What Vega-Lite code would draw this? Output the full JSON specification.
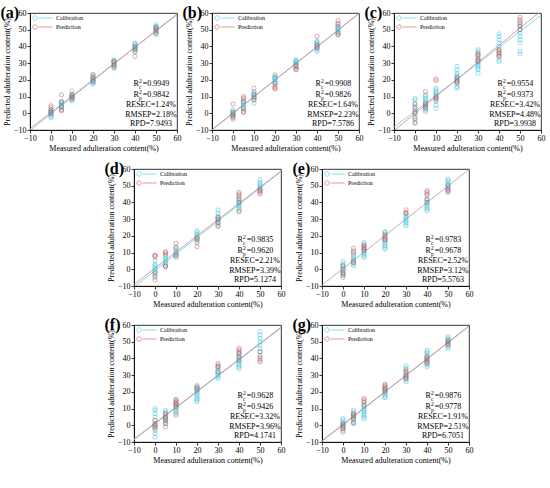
{
  "$schema": "https://vega.github.io/schema/vega-lite/v6.json",
  "padding": {"left": 0, "top": 4, "right": 0, "bottom": 0},
  "datasets": {
    "pts": [
      {"p":"a","s":"Calibration","x":0,"y":-2.5},{"p":"a","s":"Calibration","x":0,"y":-2},{"p":"a","s":"Calibration","x":0,"y":-1},{"p":"a","s":"Calibration","x":0,"y":0},{"p":"a","s":"Calibration","x":0,"y":0.5},{"p":"a","s":"Calibration","x":0,"y":1},{"p":"a","s":"Calibration","x":0,"y":1.5},{"p":"a","s":"Calibration","x":0,"y":2},
      {"p":"a","s":"Calibration","x":5,"y":2.5},{"p":"a","s":"Calibration","x":5,"y":3.5},{"p":"a","s":"Calibration","x":5,"y":4},{"p":"a","s":"Calibration","x":5,"y":5},{"p":"a","s":"Calibration","x":5,"y":5.5},{"p":"a","s":"Calibration","x":5,"y":6},{"p":"a","s":"Calibration","x":5,"y":6.5},{"p":"a","s":"Calibration","x":5,"y":7},
      {"p":"a","s":"Calibration","x":10,"y":7.5},{"p":"a","s":"Calibration","x":10,"y":8},{"p":"a","s":"Calibration","x":10,"y":9},{"p":"a","s":"Calibration","x":10,"y":9.5},{"p":"a","s":"Calibration","x":10,"y":10},{"p":"a","s":"Calibration","x":10,"y":10.5},{"p":"a","s":"Calibration","x":10,"y":11},{"p":"a","s":"Calibration","x":10,"y":13.5},
      {"p":"a","s":"Calibration","x":20,"y":17.5},{"p":"a","s":"Calibration","x":20,"y":18},{"p":"a","s":"Calibration","x":20,"y":19},{"p":"a","s":"Calibration","x":20,"y":19.5},{"p":"a","s":"Calibration","x":20,"y":20},{"p":"a","s":"Calibration","x":20,"y":21},{"p":"a","s":"Calibration","x":20,"y":22},{"p":"a","s":"Calibration","x":20,"y":23},
      {"p":"a","s":"Calibration","x":30,"y":27},{"p":"a","s":"Calibration","x":30,"y":28},{"p":"a","s":"Calibration","x":30,"y":28.5},{"p":"a","s":"Calibration","x":30,"y":29},{"p":"a","s":"Calibration","x":30,"y":30},{"p":"a","s":"Calibration","x":30,"y":31},{"p":"a","s":"Calibration","x":30,"y":31.5},{"p":"a","s":"Calibration","x":30,"y":32},
      {"p":"a","s":"Calibration","x":40,"y":36.5},{"p":"a","s":"Calibration","x":40,"y":37},{"p":"a","s":"Calibration","x":40,"y":38},{"p":"a","s":"Calibration","x":40,"y":39},{"p":"a","s":"Calibration","x":40,"y":40},{"p":"a","s":"Calibration","x":40,"y":41},{"p":"a","s":"Calibration","x":40,"y":41.5},{"p":"a","s":"Calibration","x":40,"y":42},
      {"p":"a","s":"Calibration","x":50,"y":47},{"p":"a","s":"Calibration","x":50,"y":48},{"p":"a","s":"Calibration","x":50,"y":49},{"p":"a","s":"Calibration","x":50,"y":50},{"p":"a","s":"Calibration","x":50,"y":51},{"p":"a","s":"Calibration","x":50,"y":51.5},{"p":"a","s":"Calibration","x":50,"y":52},{"p":"a","s":"Calibration","x":50,"y":53},
      {"p":"a","s":"Prediction","x":0,"y":4.5},{"p":"a","s":"Prediction","x":0,"y":3.5},{"p":"a","s":"Prediction","x":0,"y":2},{"p":"a","s":"Prediction","x":0,"y":0.5},{"p":"a","s":"Prediction","x":0,"y":-0.5},
      {"p":"a","s":"Prediction","x":5,"y":11},{"p":"a","s":"Prediction","x":5,"y":7},{"p":"a","s":"Prediction","x":5,"y":4},{"p":"a","s":"Prediction","x":5,"y":2},{"p":"a","s":"Prediction","x":5,"y":1.5},
      {"p":"a","s":"Prediction","x":10,"y":8.5},{"p":"a","s":"Prediction","x":10,"y":9.5},{"p":"a","s":"Prediction","x":10,"y":10.5},{"p":"a","s":"Prediction","x":10,"y":11.5},
      {"p":"a","s":"Prediction","x":20,"y":19},{"p":"a","s":"Prediction","x":20,"y":20.5},{"p":"a","s":"Prediction","x":20,"y":21.5},{"p":"a","s":"Prediction","x":20,"y":23},
      {"p":"a","s":"Prediction","x":30,"y":27.5},{"p":"a","s":"Prediction","x":30,"y":29},{"p":"a","s":"Prediction","x":30,"y":30.5},{"p":"a","s":"Prediction","x":30,"y":31},
      {"p":"a","s":"Prediction","x":40,"y":34},{"p":"a","s":"Prediction","x":40,"y":38},{"p":"a","s":"Prediction","x":40,"y":39},{"p":"a","s":"Prediction","x":40,"y":40},
      {"p":"a","s":"Prediction","x":50,"y":48},{"p":"a","s":"Prediction","x":50,"y":49.5},{"p":"a","s":"Prediction","x":50,"y":50.5},{"p":"a","s":"Prediction","x":50,"y":51.5},

      {"p":"b","s":"Calibration","x":0,"y":-2},{"p":"b","s":"Calibration","x":0,"y":-1.5},{"p":"b","s":"Calibration","x":0,"y":-1},{"p":"b","s":"Calibration","x":0,"y":-0.5},{"p":"b","s":"Calibration","x":0,"y":0},{"p":"b","s":"Calibration","x":0,"y":0.5},{"p":"b","s":"Calibration","x":0,"y":1.5},{"p":"b","s":"Calibration","x":0,"y":2},
      {"p":"b","s":"Calibration","x":5,"y":2},{"p":"b","s":"Calibration","x":5,"y":3},{"p":"b","s":"Calibration","x":5,"y":4},{"p":"b","s":"Calibration","x":5,"y":5},{"p":"b","s":"Calibration","x":5,"y":6},{"p":"b","s":"Calibration","x":5,"y":6.5},{"p":"b","s":"Calibration","x":5,"y":7},{"p":"b","s":"Calibration","x":5,"y":8},
      {"p":"b","s":"Calibration","x":10,"y":6},{"p":"b","s":"Calibration","x":10,"y":8},{"p":"b","s":"Calibration","x":10,"y":9},{"p":"b","s":"Calibration","x":10,"y":10},{"p":"b","s":"Calibration","x":10,"y":11},{"p":"b","s":"Calibration","x":10,"y":11.5},{"p":"b","s":"Calibration","x":10,"y":12},{"p":"b","s":"Calibration","x":10,"y":13},
      {"p":"b","s":"Calibration","x":20,"y":17},{"p":"b","s":"Calibration","x":20,"y":18},{"p":"b","s":"Calibration","x":20,"y":19},{"p":"b","s":"Calibration","x":20,"y":20},{"p":"b","s":"Calibration","x":20,"y":20.5},{"p":"b","s":"Calibration","x":20,"y":21},{"p":"b","s":"Calibration","x":20,"y":21.5},{"p":"b","s":"Calibration","x":20,"y":22},
      {"p":"b","s":"Calibration","x":30,"y":27},{"p":"b","s":"Calibration","x":30,"y":28},{"p":"b","s":"Calibration","x":30,"y":29},{"p":"b","s":"Calibration","x":30,"y":30},{"p":"b","s":"Calibration","x":30,"y":30.5},{"p":"b","s":"Calibration","x":30,"y":31},{"p":"b","s":"Calibration","x":30,"y":31.5},{"p":"b","s":"Calibration","x":30,"y":32},
      {"p":"b","s":"Calibration","x":40,"y":37},{"p":"b","s":"Calibration","x":40,"y":38},{"p":"b","s":"Calibration","x":40,"y":39},{"p":"b","s":"Calibration","x":40,"y":40},{"p":"b","s":"Calibration","x":40,"y":41},{"p":"b","s":"Calibration","x":40,"y":42},{"p":"b","s":"Calibration","x":40,"y":42.5},{"p":"b","s":"Calibration","x":40,"y":43},
      {"p":"b","s":"Calibration","x":50,"y":47},{"p":"b","s":"Calibration","x":50,"y":48},{"p":"b","s":"Calibration","x":50,"y":49},{"p":"b","s":"Calibration","x":50,"y":50},{"p":"b","s":"Calibration","x":50,"y":50.5},{"p":"b","s":"Calibration","x":50,"y":51},{"p":"b","s":"Calibration","x":50,"y":51.5},{"p":"b","s":"Calibration","x":50,"y":52},
      {"p":"b","s":"Prediction","x":0,"y":5.5},{"p":"b","s":"Prediction","x":0,"y":-3.5},{"p":"b","s":"Prediction","x":0,"y":-2.5},{"p":"b","s":"Prediction","x":0,"y":-1},{"p":"b","s":"Prediction","x":0,"y":0.5},
      {"p":"b","s":"Prediction","x":5,"y":10},{"p":"b","s":"Prediction","x":5,"y":9},{"p":"b","s":"Prediction","x":5,"y":7},{"p":"b","s":"Prediction","x":5,"y":3},{"p":"b","s":"Prediction","x":5,"y":1},{"p":"b","s":"Prediction","x":5,"y":0.5},
      {"p":"b","s":"Prediction","x":10,"y":15},{"p":"b","s":"Prediction","x":10,"y":11},{"p":"b","s":"Prediction","x":10,"y":9.5},{"p":"b","s":"Prediction","x":10,"y":8},
      {"p":"b","s":"Prediction","x":20,"y":23},{"p":"b","s":"Prediction","x":20,"y":18},{"p":"b","s":"Prediction","x":20,"y":16},{"p":"b","s":"Prediction","x":20,"y":15},{"p":"b","s":"Prediction","x":20,"y":14.5},
      {"p":"b","s":"Prediction","x":30,"y":26},{"p":"b","s":"Prediction","x":30,"y":26.5},{"p":"b","s":"Prediction","x":30,"y":28},{"p":"b","s":"Prediction","x":30,"y":29},
      {"p":"b","s":"Prediction","x":40,"y":46},{"p":"b","s":"Prediction","x":40,"y":41},{"p":"b","s":"Prediction","x":40,"y":40},{"p":"b","s":"Prediction","x":40,"y":39},
      {"p":"b","s":"Prediction","x":50,"y":55.5},{"p":"b","s":"Prediction","x":50,"y":54},{"p":"b","s":"Prediction","x":50,"y":53},{"p":"b","s":"Prediction","x":50,"y":48},{"p":"b","s":"Prediction","x":50,"y":47},

      {"p":"c","s":"Calibration","x":0,"y":-6},{"p":"c","s":"Calibration","x":0,"y":-4},{"p":"c","s":"Calibration","x":0,"y":-2},{"p":"c","s":"Calibration","x":0,"y":0},{"p":"c","s":"Calibration","x":0,"y":2},{"p":"c","s":"Calibration","x":0,"y":4},{"p":"c","s":"Calibration","x":0,"y":6},{"p":"c","s":"Calibration","x":0,"y":8},{"p":"c","s":"Calibration","x":0,"y":9},
      {"p":"c","s":"Calibration","x":5,"y":1},{"p":"c","s":"Calibration","x":5,"y":2},{"p":"c","s":"Calibration","x":5,"y":3},{"p":"c","s":"Calibration","x":5,"y":4},{"p":"c","s":"Calibration","x":5,"y":5},{"p":"c","s":"Calibration","x":5,"y":6},{"p":"c","s":"Calibration","x":5,"y":7},{"p":"c","s":"Calibration","x":5,"y":8},{"p":"c","s":"Calibration","x":5,"y":9},{"p":"c","s":"Calibration","x":5,"y":10},{"p":"c","s":"Calibration","x":5,"y":11},
      {"p":"c","s":"Calibration","x":10,"y":3},{"p":"c","s":"Calibration","x":10,"y":5},{"p":"c","s":"Calibration","x":10,"y":7},{"p":"c","s":"Calibration","x":10,"y":9},{"p":"c","s":"Calibration","x":10,"y":10},{"p":"c","s":"Calibration","x":10,"y":11},{"p":"c","s":"Calibration","x":10,"y":12},{"p":"c","s":"Calibration","x":10,"y":13},{"p":"c","s":"Calibration","x":10,"y":14},{"p":"c","s":"Calibration","x":10,"y":15},
      {"p":"c","s":"Calibration","x":20,"y":15},{"p":"c","s":"Calibration","x":20,"y":16},{"p":"c","s":"Calibration","x":20,"y":18},{"p":"c","s":"Calibration","x":20,"y":19},{"p":"c","s":"Calibration","x":20,"y":20},{"p":"c","s":"Calibration","x":20,"y":21},{"p":"c","s":"Calibration","x":20,"y":22},{"p":"c","s":"Calibration","x":20,"y":23},{"p":"c","s":"Calibration","x":20,"y":24},{"p":"c","s":"Calibration","x":20,"y":26},{"p":"c","s":"Calibration","x":20,"y":28},
      {"p":"c","s":"Calibration","x":30,"y":24},{"p":"c","s":"Calibration","x":30,"y":26},{"p":"c","s":"Calibration","x":30,"y":27},{"p":"c","s":"Calibration","x":30,"y":28},{"p":"c","s":"Calibration","x":30,"y":29},{"p":"c","s":"Calibration","x":30,"y":30},{"p":"c","s":"Calibration","x":30,"y":31},{"p":"c","s":"Calibration","x":30,"y":32},{"p":"c","s":"Calibration","x":30,"y":33},{"p":"c","s":"Calibration","x":30,"y":35},{"p":"c","s":"Calibration","x":30,"y":37},{"p":"c","s":"Calibration","x":30,"y":38},
      {"p":"c","s":"Calibration","x":40,"y":31},{"p":"c","s":"Calibration","x":40,"y":32},{"p":"c","s":"Calibration","x":40,"y":34},{"p":"c","s":"Calibration","x":40,"y":36},{"p":"c","s":"Calibration","x":40,"y":38},{"p":"c","s":"Calibration","x":40,"y":40},{"p":"c","s":"Calibration","x":40,"y":42},{"p":"c","s":"Calibration","x":40,"y":44},{"p":"c","s":"Calibration","x":40,"y":46},{"p":"c","s":"Calibration","x":40,"y":47.5},
      {"p":"c","s":"Calibration","x":50,"y":35.5},{"p":"c","s":"Calibration","x":50,"y":37},{"p":"c","s":"Calibration","x":50,"y":42},{"p":"c","s":"Calibration","x":50,"y":44},{"p":"c","s":"Calibration","x":50,"y":46},{"p":"c","s":"Calibration","x":50,"y":48},{"p":"c","s":"Calibration","x":50,"y":50},{"p":"c","s":"Calibration","x":50,"y":52},{"p":"c","s":"Calibration","x":50,"y":53},{"p":"c","s":"Calibration","x":50,"y":55},
      {"p":"c","s":"Prediction","x":0,"y":-5.5},{"p":"c","s":"Prediction","x":0,"y":-3},{"p":"c","s":"Prediction","x":0,"y":0},{"p":"c","s":"Prediction","x":0,"y":1},{"p":"c","s":"Prediction","x":0,"y":3},{"p":"c","s":"Prediction","x":0,"y":5.5},
      {"p":"c","s":"Prediction","x":5,"y":13},{"p":"c","s":"Prediction","x":5,"y":6},{"p":"c","s":"Prediction","x":5,"y":5},{"p":"c","s":"Prediction","x":5,"y":4},{"p":"c","s":"Prediction","x":5,"y":3},
      {"p":"c","s":"Prediction","x":10,"y":20.5},{"p":"c","s":"Prediction","x":10,"y":19.5},{"p":"c","s":"Prediction","x":10,"y":10},{"p":"c","s":"Prediction","x":10,"y":9},{"p":"c","s":"Prediction","x":10,"y":8},
      {"p":"c","s":"Prediction","x":20,"y":18},{"p":"c","s":"Prediction","x":20,"y":19},{"p":"c","s":"Prediction","x":20,"y":20},{"p":"c","s":"Prediction","x":20,"y":21.5},
      {"p":"c","s":"Prediction","x":30,"y":36},{"p":"c","s":"Prediction","x":30,"y":35},{"p":"c","s":"Prediction","x":30,"y":34},{"p":"c","s":"Prediction","x":30,"y":32},{"p":"c","s":"Prediction","x":30,"y":31},
      {"p":"c","s":"Prediction","x":40,"y":38},{"p":"c","s":"Prediction","x":40,"y":37},{"p":"c","s":"Prediction","x":40,"y":36},{"p":"c","s":"Prediction","x":40,"y":35},{"p":"c","s":"Prediction","x":40,"y":34},
      {"p":"c","s":"Prediction","x":50,"y":57.5},{"p":"c","s":"Prediction","x":50,"y":56},{"p":"c","s":"Prediction","x":50,"y":54},{"p":"c","s":"Prediction","x":50,"y":52},{"p":"c","s":"Prediction","x":50,"y":50},

      {"p":"d","s":"Calibration","x":0,"y":-5},{"p":"d","s":"Calibration","x":0,"y":-3},{"p":"d","s":"Calibration","x":0,"y":-2},{"p":"d","s":"Calibration","x":0,"y":-1},{"p":"d","s":"Calibration","x":0,"y":0},{"p":"d","s":"Calibration","x":0,"y":1},{"p":"d","s":"Calibration","x":0,"y":2},{"p":"d","s":"Calibration","x":0,"y":3},{"p":"d","s":"Calibration","x":0,"y":5},
      {"p":"d","s":"Calibration","x":5,"y":2},{"p":"d","s":"Calibration","x":5,"y":3},{"p":"d","s":"Calibration","x":5,"y":4},{"p":"d","s":"Calibration","x":5,"y":5},{"p":"d","s":"Calibration","x":5,"y":6},{"p":"d","s":"Calibration","x":5,"y":7},{"p":"d","s":"Calibration","x":5,"y":8},
      {"p":"d","s":"Calibration","x":10,"y":7},{"p":"d","s":"Calibration","x":10,"y":8},{"p":"d","s":"Calibration","x":10,"y":9},{"p":"d","s":"Calibration","x":10,"y":10},{"p":"d","s":"Calibration","x":10,"y":11},{"p":"d","s":"Calibration","x":10,"y":12},{"p":"d","s":"Calibration","x":10,"y":13},
      {"p":"d","s":"Calibration","x":20,"y":17},{"p":"d","s":"Calibration","x":20,"y":18},{"p":"d","s":"Calibration","x":20,"y":19},{"p":"d","s":"Calibration","x":20,"y":20},{"p":"d","s":"Calibration","x":20,"y":21},{"p":"d","s":"Calibration","x":20,"y":22},{"p":"d","s":"Calibration","x":20,"y":23},
      {"p":"d","s":"Calibration","x":30,"y":25.5},{"p":"d","s":"Calibration","x":30,"y":27},{"p":"d","s":"Calibration","x":30,"y":28},{"p":"d","s":"Calibration","x":30,"y":29},{"p":"d","s":"Calibration","x":30,"y":30},{"p":"d","s":"Calibration","x":30,"y":31},{"p":"d","s":"Calibration","x":30,"y":32},{"p":"d","s":"Calibration","x":30,"y":33.5},{"p":"d","s":"Calibration","x":30,"y":35.5},
      {"p":"d","s":"Calibration","x":40,"y":35},{"p":"d","s":"Calibration","x":40,"y":36},{"p":"d","s":"Calibration","x":40,"y":37},{"p":"d","s":"Calibration","x":40,"y":38},{"p":"d","s":"Calibration","x":40,"y":39},{"p":"d","s":"Calibration","x":40,"y":40},{"p":"d","s":"Calibration","x":40,"y":41},{"p":"d","s":"Calibration","x":40,"y":42},{"p":"d","s":"Calibration","x":40,"y":43},
      {"p":"d","s":"Calibration","x":50,"y":47},{"p":"d","s":"Calibration","x":50,"y":48},{"p":"d","s":"Calibration","x":50,"y":49},{"p":"d","s":"Calibration","x":50,"y":50},{"p":"d","s":"Calibration","x":50,"y":51},{"p":"d","s":"Calibration","x":50,"y":52},{"p":"d","s":"Calibration","x":50,"y":53.5},
      {"p":"d","s":"Prediction","x":0,"y":8.5},{"p":"d","s":"Prediction","x":0,"y":8},{"p":"d","s":"Prediction","x":0,"y":7.5},{"p":"d","s":"Prediction","x":0,"y":-2},{"p":"d","s":"Prediction","x":0,"y":-4},{"p":"d","s":"Prediction","x":0,"y":-6.5},
      {"p":"d","s":"Prediction","x":5,"y":10.5},{"p":"d","s":"Prediction","x":5,"y":10},{"p":"d","s":"Prediction","x":5,"y":9},{"p":"d","s":"Prediction","x":5,"y":2},{"p":"d","s":"Prediction","x":5,"y":1.5},
      {"p":"d","s":"Prediction","x":10,"y":15.5},{"p":"d","s":"Prediction","x":10,"y":13},{"p":"d","s":"Prediction","x":10,"y":9},{"p":"d","s":"Prediction","x":10,"y":8},
      {"p":"d","s":"Prediction","x":20,"y":19},{"p":"d","s":"Prediction","x":20,"y":18},{"p":"d","s":"Prediction","x":20,"y":16},{"p":"d","s":"Prediction","x":20,"y":13.5},
      {"p":"d","s":"Prediction","x":30,"y":31},{"p":"d","s":"Prediction","x":30,"y":30},{"p":"d","s":"Prediction","x":30,"y":28},{"p":"d","s":"Prediction","x":30,"y":26},
      {"p":"d","s":"Prediction","x":40,"y":46},{"p":"d","s":"Prediction","x":40,"y":45},{"p":"d","s":"Prediction","x":40,"y":44},{"p":"d","s":"Prediction","x":40,"y":42},{"p":"d","s":"Prediction","x":40,"y":40},{"p":"d","s":"Prediction","x":40,"y":34.5},
      {"p":"d","s":"Prediction","x":50,"y":48},{"p":"d","s":"Prediction","x":50,"y":47},{"p":"d","s":"Prediction","x":50,"y":46},{"p":"d","s":"Prediction","x":50,"y":45},

      {"p":"e","s":"Calibration","x":0,"y":-5},{"p":"e","s":"Calibration","x":0,"y":-3},{"p":"e","s":"Calibration","x":0,"y":-2},{"p":"e","s":"Calibration","x":0,"y":-1},{"p":"e","s":"Calibration","x":0,"y":0},{"p":"e","s":"Calibration","x":0,"y":1},{"p":"e","s":"Calibration","x":0,"y":2},{"p":"e","s":"Calibration","x":0,"y":3},{"p":"e","s":"Calibration","x":0,"y":4.5},
      {"p":"e","s":"Calibration","x":5,"y":2},{"p":"e","s":"Calibration","x":5,"y":3},{"p":"e","s":"Calibration","x":5,"y":4},{"p":"e","s":"Calibration","x":5,"y":5},{"p":"e","s":"Calibration","x":5,"y":6},{"p":"e","s":"Calibration","x":5,"y":7},{"p":"e","s":"Calibration","x":5,"y":8},{"p":"e","s":"Calibration","x":5,"y":9},
      {"p":"e","s":"Calibration","x":10,"y":7},{"p":"e","s":"Calibration","x":10,"y":8},{"p":"e","s":"Calibration","x":10,"y":9},{"p":"e","s":"Calibration","x":10,"y":10},{"p":"e","s":"Calibration","x":10,"y":11},{"p":"e","s":"Calibration","x":10,"y":12},{"p":"e","s":"Calibration","x":10,"y":13},{"p":"e","s":"Calibration","x":10,"y":14},{"p":"e","s":"Calibration","x":10,"y":16},
      {"p":"e","s":"Calibration","x":20,"y":12},{"p":"e","s":"Calibration","x":20,"y":13},{"p":"e","s":"Calibration","x":20,"y":14},{"p":"e","s":"Calibration","x":20,"y":15},{"p":"e","s":"Calibration","x":20,"y":16},{"p":"e","s":"Calibration","x":20,"y":17},{"p":"e","s":"Calibration","x":20,"y":18},{"p":"e","s":"Calibration","x":20,"y":20},{"p":"e","s":"Calibration","x":20,"y":22},{"p":"e","s":"Calibration","x":20,"y":22.5},
      {"p":"e","s":"Calibration","x":30,"y":26},{"p":"e","s":"Calibration","x":30,"y":27},{"p":"e","s":"Calibration","x":30,"y":28},{"p":"e","s":"Calibration","x":30,"y":29},{"p":"e","s":"Calibration","x":30,"y":30},{"p":"e","s":"Calibration","x":30,"y":31},{"p":"e","s":"Calibration","x":30,"y":32},{"p":"e","s":"Calibration","x":30,"y":33},
      {"p":"e","s":"Calibration","x":40,"y":35},{"p":"e","s":"Calibration","x":40,"y":36},{"p":"e","s":"Calibration","x":40,"y":37},{"p":"e","s":"Calibration","x":40,"y":38},{"p":"e","s":"Calibration","x":40,"y":39},{"p":"e","s":"Calibration","x":40,"y":40},{"p":"e","s":"Calibration","x":40,"y":41},{"p":"e","s":"Calibration","x":40,"y":42},{"p":"e","s":"Calibration","x":40,"y":44},
      {"p":"e","s":"Calibration","x":50,"y":47},{"p":"e","s":"Calibration","x":50,"y":48},{"p":"e","s":"Calibration","x":50,"y":49},{"p":"e","s":"Calibration","x":50,"y":50},{"p":"e","s":"Calibration","x":50,"y":51},{"p":"e","s":"Calibration","x":50,"y":52},{"p":"e","s":"Calibration","x":50,"y":53},{"p":"e","s":"Calibration","x":50,"y":54},
      {"p":"e","s":"Prediction","x":0,"y":-4},{"p":"e","s":"Prediction","x":0,"y":-3},{"p":"e","s":"Prediction","x":0,"y":-2},{"p":"e","s":"Prediction","x":0,"y":0},{"p":"e","s":"Prediction","x":0,"y":2},
      {"p":"e","s":"Prediction","x":5,"y":12.5},{"p":"e","s":"Prediction","x":5,"y":11},{"p":"e","s":"Prediction","x":5,"y":10},{"p":"e","s":"Prediction","x":5,"y":5},{"p":"e","s":"Prediction","x":5,"y":4},
      {"p":"e","s":"Prediction","x":10,"y":15},{"p":"e","s":"Prediction","x":10,"y":14},{"p":"e","s":"Prediction","x":10,"y":13},{"p":"e","s":"Prediction","x":10,"y":12},{"p":"e","s":"Prediction","x":10,"y":11},
      {"p":"e","s":"Prediction","x":20,"y":21},{"p":"e","s":"Prediction","x":20,"y":20},{"p":"e","s":"Prediction","x":20,"y":19},{"p":"e","s":"Prediction","x":20,"y":18},{"p":"e","s":"Prediction","x":20,"y":17.5},
      {"p":"e","s":"Prediction","x":30,"y":35.5},{"p":"e","s":"Prediction","x":30,"y":34},{"p":"e","s":"Prediction","x":30,"y":33.5},
      {"p":"e","s":"Prediction","x":40,"y":47},{"p":"e","s":"Prediction","x":40,"y":46},{"p":"e","s":"Prediction","x":40,"y":45},{"p":"e","s":"Prediction","x":40,"y":42},{"p":"e","s":"Prediction","x":40,"y":40},
      {"p":"e","s":"Prediction","x":50,"y":46},{"p":"e","s":"Prediction","x":50,"y":47},{"p":"e","s":"Prediction","x":50,"y":48},{"p":"e","s":"Prediction","x":50,"y":50},

      {"p":"f","s":"Calibration","x":0,"y":-7},{"p":"f","s":"Calibration","x":0,"y":-5},{"p":"f","s":"Calibration","x":0,"y":-3},{"p":"f","s":"Calibration","x":0,"y":-1},{"p":"f","s":"Calibration","x":0,"y":0},{"p":"f","s":"Calibration","x":0,"y":1},{"p":"f","s":"Calibration","x":0,"y":3},{"p":"f","s":"Calibration","x":0,"y":5},{"p":"f","s":"Calibration","x":0,"y":7},{"p":"f","s":"Calibration","x":0,"y":9},{"p":"f","s":"Calibration","x":0,"y":10},
      {"p":"f","s":"Calibration","x":5,"y":1},{"p":"f","s":"Calibration","x":5,"y":2},{"p":"f","s":"Calibration","x":5,"y":3},{"p":"f","s":"Calibration","x":5,"y":4},{"p":"f","s":"Calibration","x":5,"y":5},{"p":"f","s":"Calibration","x":5,"y":6},{"p":"f","s":"Calibration","x":5,"y":7},{"p":"f","s":"Calibration","x":5,"y":8},{"p":"f","s":"Calibration","x":5,"y":9},
      {"p":"f","s":"Calibration","x":10,"y":7},{"p":"f","s":"Calibration","x":10,"y":8},{"p":"f","s":"Calibration","x":10,"y":9},{"p":"f","s":"Calibration","x":10,"y":10},{"p":"f","s":"Calibration","x":10,"y":11},{"p":"f","s":"Calibration","x":10,"y":12},{"p":"f","s":"Calibration","x":10,"y":13},{"p":"f","s":"Calibration","x":10,"y":14},
      {"p":"f","s":"Calibration","x":20,"y":14},{"p":"f","s":"Calibration","x":20,"y":15},{"p":"f","s":"Calibration","x":20,"y":16},{"p":"f","s":"Calibration","x":20,"y":17},{"p":"f","s":"Calibration","x":20,"y":18},{"p":"f","s":"Calibration","x":20,"y":19},{"p":"f","s":"Calibration","x":20,"y":20},{"p":"f","s":"Calibration","x":20,"y":21},{"p":"f","s":"Calibration","x":20,"y":22},{"p":"f","s":"Calibration","x":20,"y":23},{"p":"f","s":"Calibration","x":20,"y":24},
      {"p":"f","s":"Calibration","x":30,"y":28},{"p":"f","s":"Calibration","x":30,"y":29},{"p":"f","s":"Calibration","x":30,"y":30},{"p":"f","s":"Calibration","x":30,"y":31},{"p":"f","s":"Calibration","x":30,"y":32},{"p":"f","s":"Calibration","x":30,"y":33},{"p":"f","s":"Calibration","x":30,"y":34},{"p":"f","s":"Calibration","x":30,"y":35},
      {"p":"f","s":"Calibration","x":40,"y":34},{"p":"f","s":"Calibration","x":40,"y":35},{"p":"f","s":"Calibration","x":40,"y":36},{"p":"f","s":"Calibration","x":40,"y":37},{"p":"f","s":"Calibration","x":40,"y":38},{"p":"f","s":"Calibration","x":40,"y":39},{"p":"f","s":"Calibration","x":40,"y":40},{"p":"f","s":"Calibration","x":40,"y":41},{"p":"f","s":"Calibration","x":40,"y":42},{"p":"f","s":"Calibration","x":40,"y":43},
      {"p":"f","s":"Calibration","x":50,"y":40},{"p":"f","s":"Calibration","x":50,"y":42},{"p":"f","s":"Calibration","x":50,"y":44},{"p":"f","s":"Calibration","x":50,"y":46},{"p":"f","s":"Calibration","x":50,"y":48},{"p":"f","s":"Calibration","x":50,"y":50},{"p":"f","s":"Calibration","x":50,"y":52},{"p":"f","s":"Calibration","x":50,"y":54},{"p":"f","s":"Calibration","x":50,"y":56},
      {"p":"f","s":"Prediction","x":0,"y":-2},{"p":"f","s":"Prediction","x":0,"y":-1},{"p":"f","s":"Prediction","x":0,"y":0},{"p":"f","s":"Prediction","x":0,"y":1},{"p":"f","s":"Prediction","x":0,"y":3},
      {"p":"f","s":"Prediction","x":5,"y":-1},{"p":"f","s":"Prediction","x":5,"y":1},{"p":"f","s":"Prediction","x":5,"y":3},{"p":"f","s":"Prediction","x":5,"y":4},{"p":"f","s":"Prediction","x":5,"y":5},{"p":"f","s":"Prediction","x":5,"y":7},
      {"p":"f","s":"Prediction","x":10,"y":15.5},{"p":"f","s":"Prediction","x":10,"y":15},{"p":"f","s":"Prediction","x":10,"y":14},{"p":"f","s":"Prediction","x":10,"y":13},{"p":"f","s":"Prediction","x":10,"y":12},{"p":"f","s":"Prediction","x":10,"y":11},{"p":"f","s":"Prediction","x":10,"y":6},
      {"p":"f","s":"Prediction","x":20,"y":21},{"p":"f","s":"Prediction","x":20,"y":22},{"p":"f","s":"Prediction","x":20,"y":23},
      {"p":"f","s":"Prediction","x":30,"y":37},{"p":"f","s":"Prediction","x":30,"y":36},{"p":"f","s":"Prediction","x":30,"y":35},{"p":"f","s":"Prediction","x":30,"y":32},
      {"p":"f","s":"Prediction","x":40,"y":46},{"p":"f","s":"Prediction","x":40,"y":45},{"p":"f","s":"Prediction","x":40,"y":44},{"p":"f","s":"Prediction","x":40,"y":43},{"p":"f","s":"Prediction","x":40,"y":41},{"p":"f","s":"Prediction","x":40,"y":39},
      {"p":"f","s":"Prediction","x":50,"y":38},{"p":"f","s":"Prediction","x":50,"y":39},{"p":"f","s":"Prediction","x":50,"y":41},{"p":"f","s":"Prediction","x":50,"y":44},

      {"p":"g","s":"Calibration","x":0,"y":-3},{"p":"g","s":"Calibration","x":0,"y":-2},{"p":"g","s":"Calibration","x":0,"y":-1},{"p":"g","s":"Calibration","x":0,"y":0},{"p":"g","s":"Calibration","x":0,"y":1},{"p":"g","s":"Calibration","x":0,"y":2},{"p":"g","s":"Calibration","x":0,"y":3},{"p":"g","s":"Calibration","x":0,"y":4},
      {"p":"g","s":"Calibration","x":5,"y":1},{"p":"g","s":"Calibration","x":5,"y":2},{"p":"g","s":"Calibration","x":5,"y":3},{"p":"g","s":"Calibration","x":5,"y":4},{"p":"g","s":"Calibration","x":5,"y":5},{"p":"g","s":"Calibration","x":5,"y":6},{"p":"g","s":"Calibration","x":5,"y":7},{"p":"g","s":"Calibration","x":5,"y":8},{"p":"g","s":"Calibration","x":5,"y":9},
      {"p":"g","s":"Calibration","x":10,"y":4},{"p":"g","s":"Calibration","x":10,"y":5},{"p":"g","s":"Calibration","x":10,"y":6},{"p":"g","s":"Calibration","x":10,"y":7},{"p":"g","s":"Calibration","x":10,"y":8},{"p":"g","s":"Calibration","x":10,"y":9},{"p":"g","s":"Calibration","x":10,"y":10},{"p":"g","s":"Calibration","x":10,"y":11},{"p":"g","s":"Calibration","x":10,"y":12},{"p":"g","s":"Calibration","x":10,"y":13.5},
      {"p":"g","s":"Calibration","x":20,"y":16.5},{"p":"g","s":"Calibration","x":20,"y":17},{"p":"g","s":"Calibration","x":20,"y":18},{"p":"g","s":"Calibration","x":20,"y":19},{"p":"g","s":"Calibration","x":20,"y":20},{"p":"g","s":"Calibration","x":20,"y":21},{"p":"g","s":"Calibration","x":20,"y":22},{"p":"g","s":"Calibration","x":20,"y":23},
      {"p":"g","s":"Calibration","x":30,"y":26},{"p":"g","s":"Calibration","x":30,"y":27},{"p":"g","s":"Calibration","x":30,"y":28},{"p":"g","s":"Calibration","x":30,"y":29},{"p":"g","s":"Calibration","x":30,"y":30},{"p":"g","s":"Calibration","x":30,"y":31},{"p":"g","s":"Calibration","x":30,"y":32},{"p":"g","s":"Calibration","x":30,"y":34},{"p":"g","s":"Calibration","x":30,"y":35.5},
      {"p":"g","s":"Calibration","x":40,"y":35},{"p":"g","s":"Calibration","x":40,"y":36},{"p":"g","s":"Calibration","x":40,"y":37},{"p":"g","s":"Calibration","x":40,"y":38},{"p":"g","s":"Calibration","x":40,"y":39},{"p":"g","s":"Calibration","x":40,"y":40},{"p":"g","s":"Calibration","x":40,"y":41},{"p":"g","s":"Calibration","x":40,"y":42},{"p":"g","s":"Calibration","x":40,"y":43},{"p":"g","s":"Calibration","x":40,"y":44},{"p":"g","s":"Calibration","x":40,"y":45},
      {"p":"g","s":"Calibration","x":50,"y":46},{"p":"g","s":"Calibration","x":50,"y":47},{"p":"g","s":"Calibration","x":50,"y":48},{"p":"g","s":"Calibration","x":50,"y":49},{"p":"g","s":"Calibration","x":50,"y":50},{"p":"g","s":"Calibration","x":50,"y":51},{"p":"g","s":"Calibration","x":50,"y":52},{"p":"g","s":"Calibration","x":50,"y":53},
      {"p":"g","s":"Prediction","x":0,"y":-4},{"p":"g","s":"Prediction","x":0,"y":-2},{"p":"g","s":"Prediction","x":0,"y":-1},{"p":"g","s":"Prediction","x":0,"y":0},{"p":"g","s":"Prediction","x":0,"y":1},
      {"p":"g","s":"Prediction","x":5,"y":7},{"p":"g","s":"Prediction","x":5,"y":6},{"p":"g","s":"Prediction","x":5,"y":5},{"p":"g","s":"Prediction","x":5,"y":4},{"p":"g","s":"Prediction","x":5,"y":1.5},
      {"p":"g","s":"Prediction","x":10,"y":16},{"p":"g","s":"Prediction","x":10,"y":15},{"p":"g","s":"Prediction","x":10,"y":14},{"p":"g","s":"Prediction","x":10,"y":12},
      {"p":"g","s":"Prediction","x":20,"y":24.5},{"p":"g","s":"Prediction","x":20,"y":24},{"p":"g","s":"Prediction","x":20,"y":23},{"p":"g","s":"Prediction","x":20,"y":22},{"p":"g","s":"Prediction","x":20,"y":21},{"p":"g","s":"Prediction","x":20,"y":20},
      {"p":"g","s":"Prediction","x":30,"y":33},{"p":"g","s":"Prediction","x":30,"y":32},{"p":"g","s":"Prediction","x":30,"y":30},{"p":"g","s":"Prediction","x":30,"y":29},{"p":"g","s":"Prediction","x":30,"y":28},
      {"p":"g","s":"Prediction","x":40,"y":41},{"p":"g","s":"Prediction","x":40,"y":40},{"p":"g","s":"Prediction","x":40,"y":39},{"p":"g","s":"Prediction","x":40,"y":38},{"p":"g","s":"Prediction","x":40,"y":37},
      {"p":"g","s":"Prediction","x":50,"y":51},{"p":"g","s":"Prediction","x":50,"y":50},{"p":"g","s":"Prediction","x":50,"y":49},{"p":"g","s":"Prediction","x":50,"y":48}
    ],
    "fit": [
      {"p":"a","s":"Calibration","x":-10,"y":-10.3},{"p":"a","s":"Calibration","x":60,"y":59.4},{"p":"a","s":"Prediction","x":-10,"y":-9.2},{"p":"a","s":"Prediction","x":60,"y":59.0},
      {"p":"b","s":"Calibration","x":-10,"y":-10},{"p":"b","s":"Calibration","x":60,"y":59.8},{"p":"b","s":"Prediction","x":-10,"y":-9.8},{"p":"b","s":"Prediction","x":60,"y":59.6},
      {"p":"c","s":"Calibration","x":-10,"y":-8.3},{"p":"c","s":"Calibration","x":60,"y":58.6},{"p":"c","s":"Prediction","x":-10,"y":-10.4},{"p":"c","s":"Prediction","x":60,"y":61.2},
      {"p":"d","s":"Calibration","x":-10,"y":-10.6},{"p":"d","s":"Calibration","x":60,"y":58.4},{"p":"d","s":"Prediction","x":-10,"y":-9},{"p":"d","s":"Prediction","x":60,"y":58.8},
      {"p":"e","s":"Calibration","x":-10,"y":-9.6},{"p":"e","s":"Calibration","x":60,"y":59.6},{"p":"e","s":"Prediction","x":-10,"y":-9.4},{"p":"e","s":"Prediction","x":60,"y":59.8},
      {"p":"f","s":"Calibration","x":-10,"y":-8.6},{"p":"f","s":"Calibration","x":60,"y":58.2},{"p":"f","s":"Prediction","x":-10,"y":-8.2},{"p":"f","s":"Prediction","x":60,"y":58.6},
      {"p":"g","s":"Calibration","x":-10,"y":-9.6},{"p":"g","s":"Calibration","x":60,"y":59.2},{"p":"g","s":"Prediction","x":-10,"y":-9.2},{"p":"g","s":"Prediction","x":60,"y":59.4}
    ],
    "ann": [
      {"p":"a","k":"r","t":"R\u00a0\u00a0=0.9949","sub":"c","ax":47.6,"ay":17.4},{"p":"a","k":"r","t":"R\u00a0\u00a0=0.9842","sub":"p","ax":47.6,"ay":10.8},{"p":"a","k":"m","t":"RESEC=1.24%","sub":"","ax":47.6,"ay":4.8},{"p":"a","k":"m","t":"RMSEP=2.18%","sub":"","ax":47.6,"ay":-1.0},{"p":"a","k":"m","t":"RPD=7.9493","sub":"","ax":47.6,"ay":-6.6},
      {"p":"b","k":"r","t":"R\u00a0\u00a0=0.9908","sub":"c","ax":47.6,"ay":17.4},{"p":"b","k":"r","t":"R\u00a0\u00a0=0.9826","sub":"p","ax":47.6,"ay":10.8},{"p":"b","k":"m","t":"RESEC=1.64%","sub":"","ax":47.6,"ay":4.8},{"p":"b","k":"m","t":"RMSEP=2.23%","sub":"","ax":47.6,"ay":-1.0},{"p":"b","k":"m","t":"RPD=7.5786","sub":"","ax":47.6,"ay":-6.6},
      {"p":"c","k":"r","t":"R\u00a0\u00a0=0.9554","sub":"c","ax":47.6,"ay":17.4},{"p":"c","k":"r","t":"R\u00a0\u00a0=0.9373","sub":"p","ax":47.6,"ay":10.8},{"p":"c","k":"m","t":"RESEC=3.42%","sub":"","ax":47.6,"ay":4.8},{"p":"c","k":"m","t":"RMSEP=4.48%","sub":"","ax":47.6,"ay":-1.0},{"p":"c","k":"m","t":"RPD=3.9938","sub":"","ax":47.6,"ay":-6.6},
      {"p":"d","k":"r","t":"R\u00a0\u00a0=0.9835","sub":"c","ax":47.6,"ay":17.4},{"p":"d","k":"r","t":"R\u00a0\u00a0=0.9620","sub":"p","ax":47.6,"ay":10.8},{"p":"d","k":"m","t":"RESEC=2.21%","sub":"","ax":47.6,"ay":4.8},{"p":"d","k":"m","t":"RMSEP=3.39%","sub":"","ax":47.6,"ay":-1.0},{"p":"d","k":"m","t":"RPD=5.1274","sub":"","ax":47.6,"ay":-6.6},
      {"p":"e","k":"r","t":"R\u00a0\u00a0=0.9783","sub":"c","ax":47.6,"ay":17.4},{"p":"e","k":"r","t":"R\u00a0\u00a0=0.9678","sub":"p","ax":47.6,"ay":10.8},{"p":"e","k":"m","t":"RESEC=2.52%","sub":"","ax":47.6,"ay":4.8},{"p":"e","k":"m","t":"RMSEP=3.12%","sub":"","ax":47.6,"ay":-1.0},{"p":"e","k":"m","t":"RPD=5.5763","sub":"","ax":47.6,"ay":-6.6},
      {"p":"f","k":"r","t":"R\u00a0\u00a0=0.9628","sub":"c","ax":47.6,"ay":17.4},{"p":"f","k":"r","t":"R\u00a0\u00a0=0.9426","sub":"p","ax":47.6,"ay":10.8},{"p":"f","k":"m","t":"RESEC=3.32%","sub":"","ax":47.6,"ay":4.8},{"p":"f","k":"m","t":"RMSEP=3.96%","sub":"","ax":47.6,"ay":-1.0},{"p":"f","k":"m","t":"RPD=4.1741","sub":"","ax":47.6,"ay":-6.6},
      {"p":"g","k":"r","t":"R\u00a0\u00a0=0.9876","sub":"c","ax":47.6,"ay":17.4},{"p":"g","k":"r","t":"R\u00a0\u00a0=0.9778","sub":"p","ax":47.6,"ay":10.8},{"p":"g","k":"m","t":"RESEC=1.91%","sub":"","ax":47.6,"ay":4.8},{"p":"g","k":"m","t":"RMSEP=2.51%","sub":"","ax":47.6,"ay":-1.0},{"p":"g","k":"m","t":"RPD=6.7051","sub":"","ax":47.6,"ay":-6.6}
    ]
  },
  "config": {
    "font": "Liberation Serif",
    "view": {"stroke": "black", "strokeWidth": 0.8},
    "range": {"category": ["#35c2dc", "#c8524f"]},
    "axis": {"grid": false, "domainColor": "black", "domainWidth": 0.8, "tickColor": "black", "tickWidth": 0.8, "tickSize": 3, "labelFont": "Liberation Serif", "labelFontSize": 8, "labelColor": "black", "labelPadding": 1, "labelFlush": false, "labelOverlap": false, "titleFont": "Liberation Serif", "titleFontSize": 8, "titleFontWeight": "normal", "titleColor": "black", "titlePadding": 2},
    "legend": {"orient": "top-left", "offset": 0, "padding": 0, "rowPadding": 0, "symbolType": "M-0.5,0A0.5,0.5 0 1,1 0.5,0A0.5,0.5 0 1,1 -0.5,0M0.8,0L3.9,0", "symbolSize": 81, "symbolStrokeWidth": 0.8, "labelFont": "Liberation Serif", "labelFontSize": 6, "labelOffset": 16, "labelColor": "black"},
    "title": {"anchor": "start", "frame": "bounds", "font": "Liberation Serif", "fontSize": 16, "fontWeight": "bold", "color": "black", "baseline": "middle", "offset": -11.5, "dx": -3}
  },
  "spacing": 7,
  "resolve": {"scale": {"color": "independent", "stroke": "independent"}, "legend": {"color": "independent"}},
  "vconcat": [
    {
      "spacing": 0,
      "resolve": {"scale": {"color": "independent", "stroke": "independent"}, "legend": {"color": "independent"}},
      "hconcat": [
        {"width": 147, "height": 117, "title": "(a)",
         "encoding": {"x": {"field": "x", "type": "quantitative", "scale": {"domain": [-10, 60], "nice": false}, "axis": {"values": [-10, 0, 10, 20, 30, 40, 50, 60], "title": "Measured adulteration content(%)"}}, "y": {"field": "y", "type": "quantitative", "scale": {"domain": [-10, 60], "nice": false}, "axis": {"values": [-10, 0, 10, 20, 30, 40, 50, 60], "title": "Predicted adulteration content(%)"}}},
         "layer": [
          {"data": {"name": "fit"}, "transform": [{"filter": "datum.p=='a'"}], "mark": {"type": "line", "clip": true, "strokeWidth": 0.8}, "encoding": {"stroke": {"field": "s", "type": "nominal", "scale": {"range": ["#5fcfe0", "#e07f7f"]}, "legend": null}}},
          {"data": {"name": "pts"}, "transform": [{"filter": "datum.p=='a'"}], "mark": {"type": "point", "shape": "circle", "size": 18, "strokeWidth": 0.7}, "encoding": {"color": {"field": "s", "type": "nominal", "title": null}}},
          {"data": {"name": "ann"}, "transform": [{"filter": "datum.p=='a' && datum.k=='r'"}], "mark": {"type": "text", "align": "left", "baseline": "middle", "dx": -17.5, "fontSize": 8, "font": "Liberation Serif", "color": "black"}, "encoding": {"x": {"field": "ax", "type": "quantitative"}, "y": {"field": "ay", "type": "quantitative"}, "text": {"field": "t", "type": "nominal"}}},
          {"data": {"name": "ann"}, "transform": [{"filter": "datum.p=='a' && datum.k=='r'"}], "mark": {"type": "text", "text": "2", "align": "left", "baseline": "middle", "dx": -12, "dy": -3, "fontSize": 5.5, "font": "Liberation Serif", "color": "black"}, "encoding": {"x": {"field": "ax", "type": "quantitative"}, "y": {"field": "ay", "type": "quantitative"}}},
          {"data": {"name": "ann"}, "transform": [{"filter": "datum.p=='a' && datum.k=='r'"}], "mark": {"type": "text", "align": "left", "baseline": "middle", "dx": -12, "dy": 2.5, "fontSize": 5.5, "font": "Liberation Serif", "color": "black"}, "encoding": {"x": {"field": "ax", "type": "quantitative"}, "y": {"field": "ay", "type": "quantitative"}, "text": {"field": "sub", "type": "nominal"}}},
          {"data": {"name": "ann"}, "transform": [{"filter": "datum.p=='a' && datum.k=='m'"}], "mark": {"type": "text", "align": "center", "baseline": "middle", "fontSize": 8, "font": "Liberation Serif", "color": "black"}, "encoding": {"x": {"field": "ax", "type": "quantitative"}, "y": {"field": "ay", "type": "quantitative"}, "text": {"field": "t", "type": "nominal"}}}
         ]},
        {"width": 147, "height": 117, "title": "(b)",
         "encoding": {"x": {"field": "x", "type": "quantitative", "scale": {"domain": [-10, 60], "nice": false}, "axis": {"values": [-10, 0, 10, 20, 30, 40, 50, 60], "title": "Measured adulteration content(%)"}}, "y": {"field": "y", "type": "quantitative", "scale": {"domain": [-10, 60], "nice": false}, "axis": {"values": [-10, 0, 10, 20, 30, 40, 50, 60], "title": "Predicted adulteration content(%)"}}},
         "layer": [
          {"data": {"name": "fit"}, "transform": [{"filter": "datum.p=='b'"}], "mark": {"type": "line", "clip": true, "strokeWidth": 0.8}, "encoding": {"stroke": {"field": "s", "type": "nominal", "scale": {"range": ["#5fcfe0", "#e07f7f"]}, "legend": null}}},
          {"data": {"name": "pts"}, "transform": [{"filter": "datum.p=='b'"}], "mark": {"type": "point", "shape": "circle", "size": 18, "strokeWidth": 0.7}, "encoding": {"color": {"field": "s", "type": "nominal", "title": null}}},
          {"data": {"name": "ann"}, "transform": [{"filter": "datum.p=='b' && datum.k=='r'"}], "mark": {"type": "text", "align": "left", "baseline": "middle", "dx": -17.5, "fontSize": 8, "font": "Liberation Serif", "color": "black"}, "encoding": {"x": {"field": "ax", "type": "quantitative"}, "y": {"field": "ay", "type": "quantitative"}, "text": {"field": "t", "type": "nominal"}}},
          {"data": {"name": "ann"}, "transform": [{"filter": "datum.p=='b' && datum.k=='r'"}], "mark": {"type": "text", "text": "2", "align": "left", "baseline": "middle", "dx": -12, "dy": -3, "fontSize": 5.5, "font": "Liberation Serif", "color": "black"}, "encoding": {"x": {"field": "ax", "type": "quantitative"}, "y": {"field": "ay", "type": "quantitative"}}},
          {"data": {"name": "ann"}, "transform": [{"filter": "datum.p=='b' && datum.k=='r'"}], "mark": {"type": "text", "align": "left", "baseline": "middle", "dx": -12, "dy": 2.5, "fontSize": 5.5, "font": "Liberation Serif", "color": "black"}, "encoding": {"x": {"field": "ax", "type": "quantitative"}, "y": {"field": "ay", "type": "quantitative"}, "text": {"field": "sub", "type": "nominal"}}},
          {"data": {"name": "ann"}, "transform": [{"filter": "datum.p=='b' && datum.k=='m'"}], "mark": {"type": "text", "align": "center", "baseline": "middle", "fontSize": 8, "font": "Liberation Serif", "color": "black"}, "encoding": {"x": {"field": "ax", "type": "quantitative"}, "y": {"field": "ay", "type": "quantitative"}, "text": {"field": "t", "type": "nominal"}}}
         ]},
        {"width": 147, "height": 117, "title": "(c)",
         "encoding": {"x": {"field": "x", "type": "quantitative", "scale": {"domain": [-10, 60], "nice": false}, "axis": {"values": [-10, 0, 10, 20, 30, 40, 50, 60], "title": "Measured adulteration content(%)"}}, "y": {"field": "y", "type": "quantitative", "scale": {"domain": [-10, 60], "nice": false}, "axis": {"values": [-10, 0, 10, 20, 30, 40, 50, 60], "title": "Predicted adulteration content(%)"}}},
         "layer": [
          {"data": {"name": "fit"}, "transform": [{"filter": "datum.p=='c'"}], "mark": {"type": "line", "clip": true, "strokeWidth": 0.8}, "encoding": {"stroke": {"field": "s", "type": "nominal", "scale": {"range": ["#5fcfe0", "#e07f7f"]}, "legend": null}}},
          {"data": {"name": "pts"}, "transform": [{"filter": "datum.p=='c'"}], "mark": {"type": "point", "shape": "circle", "size": 18, "strokeWidth": 0.7}, "encoding": {"color": {"field": "s", "type": "nominal", "title": null}}},
          {"data": {"name": "ann"}, "transform": [{"filter": "datum.p=='c' && datum.k=='r'"}], "mark": {"type": "text", "align": "left", "baseline": "middle", "dx": -17.5, "fontSize": 8, "font": "Liberation Serif", "color": "black"}, "encoding": {"x": {"field": "ax", "type": "quantitative"}, "y": {"field": "ay", "type": "quantitative"}, "text": {"field": "t", "type": "nominal"}}},
          {"data": {"name": "ann"}, "transform": [{"filter": "datum.p=='c' && datum.k=='r'"}], "mark": {"type": "text", "text": "2", "align": "left", "baseline": "middle", "dx": -12, "dy": -3, "fontSize": 5.5, "font": "Liberation Serif", "color": "black"}, "encoding": {"x": {"field": "ax", "type": "quantitative"}, "y": {"field": "ay", "type": "quantitative"}}},
          {"data": {"name": "ann"}, "transform": [{"filter": "datum.p=='c' && datum.k=='r'"}], "mark": {"type": "text", "align": "left", "baseline": "middle", "dx": -12, "dy": 2.5, "fontSize": 5.5, "font": "Liberation Serif", "color": "black"}, "encoding": {"x": {"field": "ax", "type": "quantitative"}, "y": {"field": "ay", "type": "quantitative"}, "text": {"field": "sub", "type": "nominal"}}},
          {"data": {"name": "ann"}, "transform": [{"filter": "datum.p=='c' && datum.k=='m'"}], "mark": {"type": "text", "align": "center", "baseline": "middle", "fontSize": 8, "font": "Liberation Serif", "color": "black"}, "encoding": {"x": {"field": "ax", "type": "quantitative"}, "y": {"field": "ay", "type": "quantitative"}, "text": {"field": "t", "type": "nominal"}}}
         ]}
      ]
    },
    {
      "spacing": 6,
      "resolve": {"scale": {"color": "independent", "stroke": "independent"}, "legend": {"color": "independent"}},
      "hconcat": [
        {"width": 68, "height": 10, "data": {"values": []}, "mark": "point", "view": {"stroke": null}},
        {"width": 147, "height": 117, "title": "(d)",
         "encoding": {"x": {"field": "x", "type": "quantitative", "scale": {"domain": [-10, 60], "nice": false}, "axis": {"values": [-10, 0, 10, 20, 30, 40, 50, 60], "title": "Measured adulteration content(%)"}}, "y": {"field": "y", "type": "quantitative", "scale": {"domain": [-10, 60], "nice": false}, "axis": {"values": [-10, 0, 10, 20, 30, 40, 50, 60], "title": "Predicted adulteration content(%)"}}},
         "layer": [
          {"data": {"name": "fit"}, "transform": [{"filter": "datum.p=='d'"}], "mark": {"type": "line", "clip": true, "strokeWidth": 0.8}, "encoding": {"stroke": {"field": "s", "type": "nominal", "scale": {"range": ["#5fcfe0", "#e07f7f"]}, "legend": null}}},
          {"data": {"name": "pts"}, "transform": [{"filter": "datum.p=='d'"}], "mark": {"type": "point", "shape": "circle", "size": 18, "strokeWidth": 0.7}, "encoding": {"color": {"field": "s", "type": "nominal", "title": null}}},
          {"data": {"name": "ann"}, "transform": [{"filter": "datum.p=='d' && datum.k=='r'"}], "mark": {"type": "text", "align": "left", "baseline": "middle", "dx": -17.5, "fontSize": 8, "font": "Liberation Serif", "color": "black"}, "encoding": {"x": {"field": "ax", "type": "quantitative"}, "y": {"field": "ay", "type": "quantitative"}, "text": {"field": "t", "type": "nominal"}}},
          {"data": {"name": "ann"}, "transform": [{"filter": "datum.p=='d' && datum.k=='r'"}], "mark": {"type": "text", "text": "2", "align": "left", "baseline": "middle", "dx": -12, "dy": -3, "fontSize": 5.5, "font": "Liberation Serif", "color": "black"}, "encoding": {"x": {"field": "ax", "type": "quantitative"}, "y": {"field": "ay", "type": "quantitative"}}},
          {"data": {"name": "ann"}, "transform": [{"filter": "datum.p=='d' && datum.k=='r'"}], "mark": {"type": "text", "align": "left", "baseline": "middle", "dx": -12, "dy": 2.5, "fontSize": 5.5, "font": "Liberation Serif", "color": "black"}, "encoding": {"x": {"field": "ax", "type": "quantitative"}, "y": {"field": "ay", "type": "quantitative"}, "text": {"field": "sub", "type": "nominal"}}},
          {"data": {"name": "ann"}, "transform": [{"filter": "datum.p=='d' && datum.k=='m'"}], "mark": {"type": "text", "align": "center", "baseline": "middle", "fontSize": 8, "font": "Liberation Serif", "color": "black"}, "encoding": {"x": {"field": "ax", "type": "quantitative"}, "y": {"field": "ay", "type": "quantitative"}, "text": {"field": "t", "type": "nominal"}}}
         ]},
        {"width": 147, "height": 117, "title": "(e)",
         "encoding": {"x": {"field": "x", "type": "quantitative", "scale": {"domain": [-10, 60], "nice": false}, "axis": {"values": [-10, 0, 10, 20, 30, 40, 50, 60], "title": "Measured adulteration content(%)"}}, "y": {"field": "y", "type": "quantitative", "scale": {"domain": [-10, 60], "nice": false}, "axis": {"values": [-10, 0, 10, 20, 30, 40, 50, 60], "title": "Predicted adulteration content(%)"}}},
         "layer": [
          {"data": {"name": "fit"}, "transform": [{"filter": "datum.p=='e'"}], "mark": {"type": "line", "clip": true, "strokeWidth": 0.8, "opacity": 0.6}, "encoding": {"stroke": {"field": "s", "type": "nominal", "scale": {"range": ["#5fcfe0", "#e07f7f"]}, "legend": null}}},
          {"data": {"name": "pts"}, "transform": [{"filter": "datum.p=='e'"}], "mark": {"type": "point", "shape": "circle", "size": 18, "strokeWidth": 0.7}, "encoding": {"color": {"field": "s", "type": "nominal", "title": null}}},
          {"data": {"name": "ann"}, "transform": [{"filter": "datum.p=='e' && datum.k=='r'"}], "mark": {"type": "text", "align": "left", "baseline": "middle", "dx": -17.5, "fontSize": 8, "font": "Liberation Serif", "color": "black"}, "encoding": {"x": {"field": "ax", "type": "quantitative"}, "y": {"field": "ay", "type": "quantitative"}, "text": {"field": "t", "type": "nominal"}}},
          {"data": {"name": "ann"}, "transform": [{"filter": "datum.p=='e' && datum.k=='r'"}], "mark": {"type": "text", "text": "2", "align": "left", "baseline": "middle", "dx": -12, "dy": -3, "fontSize": 5.5, "font": "Liberation Serif", "color": "black"}, "encoding": {"x": {"field": "ax", "type": "quantitative"}, "y": {"field": "ay", "type": "quantitative"}}},
          {"data": {"name": "ann"}, "transform": [{"filter": "datum.p=='e' && datum.k=='r'"}], "mark": {"type": "text", "align": "left", "baseline": "middle", "dx": -12, "dy": 2.5, "fontSize": 5.5, "font": "Liberation Serif", "color": "black"}, "encoding": {"x": {"field": "ax", "type": "quantitative"}, "y": {"field": "ay", "type": "quantitative"}, "text": {"field": "sub", "type": "nominal"}}},
          {"data": {"name": "ann"}, "transform": [{"filter": "datum.p=='e' && datum.k=='m'"}], "mark": {"type": "text", "align": "center", "baseline": "middle", "fontSize": 8, "font": "Liberation Serif", "color": "black"}, "encoding": {"x": {"field": "ax", "type": "quantitative"}, "y": {"field": "ay", "type": "quantitative"}, "text": {"field": "t", "type": "nominal"}}}
         ]}
      ]
    },
    {
      "spacing": 6,
      "resolve": {"scale": {"color": "independent", "stroke": "independent"}, "legend": {"color": "independent"}},
      "hconcat": [
        {"width": 68, "height": 10, "data": {"values": []}, "mark": "point", "view": {"stroke": null}},
        {"width": 147, "height": 117, "title": "(f)",
         "encoding": {"x": {"field": "x", "type": "quantitative", "scale": {"domain": [-10, 60], "nice": false}, "axis": {"values": [-10, 0, 10, 20, 30, 40, 50, 60], "title": "Measured adulteration content(%)"}}, "y": {"field": "y", "type": "quantitative", "scale": {"domain": [-10, 60], "nice": false}, "axis": {"values": [-10, 0, 10, 20, 30, 40, 50, 60], "title": "Predicted adulteration content(%)"}}},
         "layer": [
          {"data": {"name": "fit"}, "transform": [{"filter": "datum.p=='f'"}], "mark": {"type": "line", "clip": true, "strokeWidth": 0.8}, "encoding": {"stroke": {"field": "s", "type": "nominal", "scale": {"range": ["#5fcfe0", "#e07f7f"]}, "legend": null}}},
          {"data": {"name": "pts"}, "transform": [{"filter": "datum.p=='f'"}], "mark": {"type": "point", "shape": "circle", "size": 18, "strokeWidth": 0.7}, "encoding": {"color": {"field": "s", "type": "nominal", "title": null}}},
          {"data": {"name": "ann"}, "transform": [{"filter": "datum.p=='f' && datum.k=='r'"}], "mark": {"type": "text", "align": "left", "baseline": "middle", "dx": -17.5, "fontSize": 8, "font": "Liberation Serif", "color": "black"}, "encoding": {"x": {"field": "ax", "type": "quantitative"}, "y": {"field": "ay", "type": "quantitative"}, "text": {"field": "t", "type": "nominal"}}},
          {"data": {"name": "ann"}, "transform": [{"filter": "datum.p=='f' && datum.k=='r'"}], "mark": {"type": "text", "text": "2", "align": "left", "baseline": "middle", "dx": -12, "dy": -3, "fontSize": 5.5, "font": "Liberation Serif", "color": "black"}, "encoding": {"x": {"field": "ax", "type": "quantitative"}, "y": {"field": "ay", "type": "quantitative"}}},
          {"data": {"name": "ann"}, "transform": [{"filter": "datum.p=='f' && datum.k=='r'"}], "mark": {"type": "text", "align": "left", "baseline": "middle", "dx": -12, "dy": 2.5, "fontSize": 5.5, "font": "Liberation Serif", "color": "black"}, "encoding": {"x": {"field": "ax", "type": "quantitative"}, "y": {"field": "ay", "type": "quantitative"}, "text": {"field": "sub", "type": "nominal"}}},
          {"data": {"name": "ann"}, "transform": [{"filter": "datum.p=='f' && datum.k=='m'"}], "mark": {"type": "text", "align": "center", "baseline": "middle", "fontSize": 8, "font": "Liberation Serif", "color": "black"}, "encoding": {"x": {"field": "ax", "type": "quantitative"}, "y": {"field": "ay", "type": "quantitative"}, "text": {"field": "t", "type": "nominal"}}}
         ]},
        {"width": 147, "height": 117, "title": "(g)",
         "encoding": {"x": {"field": "x", "type": "quantitative", "scale": {"domain": [-10, 60], "nice": false}, "axis": {"values": [-10, 0, 10, 20, 30, 40, 50, 60], "title": "Measured adulteration content(%)"}}, "y": {"field": "y", "type": "quantitative", "scale": {"domain": [-10, 60], "nice": false}, "axis": {"values": [-10, 0, 10, 20, 30, 40, 50, 60], "title": "Predicted adulteration content(%)"}}},
         "layer": [
          {"data": {"name": "fit"}, "transform": [{"filter": "datum.p=='g'"}], "mark": {"type": "line", "clip": true, "strokeWidth": 0.8}, "encoding": {"stroke": {"field": "s", "type": "nominal", "scale": {"range": ["#5fcfe0", "#e07f7f"]}, "legend": null}}},
          {"data": {"name": "pts"}, "transform": [{"filter": "datum.p=='g'"}], "mark": {"type": "point", "shape": "circle", "size": 18, "strokeWidth": 0.7}, "encoding": {"color": {"field": "s", "type": "nominal", "title": null}}},
          {"data": {"name": "ann"}, "transform": [{"filter": "datum.p=='g' && datum.k=='r'"}], "mark": {"type": "text", "align": "left", "baseline": "middle", "dx": -17.5, "fontSize": 8, "font": "Liberation Serif", "color": "black"}, "encoding": {"x": {"field": "ax", "type": "quantitative"}, "y": {"field": "ay", "type": "quantitative"}, "text": {"field": "t", "type": "nominal"}}},
          {"data": {"name": "ann"}, "transform": [{"filter": "datum.p=='g' && datum.k=='r'"}], "mark": {"type": "text", "text": "2", "align": "left", "baseline": "middle", "dx": -12, "dy": -3, "fontSize": 5.5, "font": "Liberation Serif", "color": "black"}, "encoding": {"x": {"field": "ax", "type": "quantitative"}, "y": {"field": "ay", "type": "quantitative"}}},
          {"data": {"name": "ann"}, "transform": [{"filter": "datum.p=='g' && datum.k=='r'"}], "mark": {"type": "text", "align": "left", "baseline": "middle", "dx": -12, "dy": 2.5, "fontSize": 5.5, "font": "Liberation Serif", "color": "black"}, "encoding": {"x": {"field": "ax", "type": "quantitative"}, "y": {"field": "ay", "type": "quantitative"}, "text": {"field": "sub", "type": "nominal"}}},
          {"data": {"name": "ann"}, "transform": [{"filter": "datum.p=='g' && datum.k=='m'"}], "mark": {"type": "text", "align": "center", "baseline": "middle", "fontSize": 8, "font": "Liberation Serif", "color": "black"}, "encoding": {"x": {"field": "ax", "type": "quantitative"}, "y": {"field": "ay", "type": "quantitative"}, "text": {"field": "t", "type": "nominal"}}}
         ]}
      ]
    }
  ]
}
